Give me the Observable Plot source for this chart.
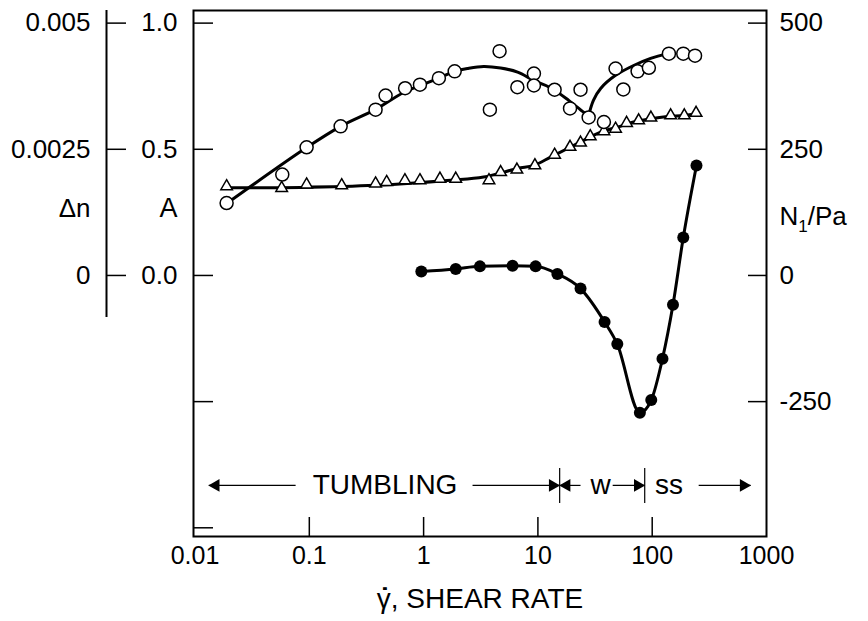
<!DOCTYPE html>
<html><head><meta charset="utf-8">
<script src="https://cdn.jsdelivr.net/npm/d3@7"></script>
<script src="https://cdn.jsdelivr.net/npm/@observablehq/plot@0.6"></script>
<style>body{margin:0;background:#fff}</style>
</head><body><div id="chart"></div>
<script>
// ---- data ----
// open circles (orientation A, left axis)
const circleRate = [0.0189, 0.058, 0.0947, 0.188, 0.380, 0.465, 0.689, 0.929, 1.36, 1.87, 3.80, 4.62, 6.61, 9.23, 9.23, 14.0, 19.1, 23.6, 27.8, 37.8, 47.8, 55.9, 74.5, 93.5, 140, 187, 237];
const circleA    = [0.287, 0.400, 0.508, 0.591, 0.657, 0.713, 0.742, 0.756, 0.782, 0.809, 0.657, 0.889, 0.746, 0.800, 0.753, 0.736, 0.662, 0.736, 0.626, 0.608, 0.820, 0.737, 0.809, 0.823, 0.879, 0.879, 0.871];
// smooth curve through open circles (two branches meeting at a cusp)
const circleFit1Rate = [0.0189, 0.0947, 0.188, 0.380, 0.682, 1.35, 1.87, 2.42, 3.35, 4.72, 6.64, 9.2, 12.9, 18.6, 25.1, 27.8];
const circleFit1A    = [0.285, 0.507, 0.591, 0.658, 0.727, 0.781, 0.809, 0.820, 0.828, 0.822, 0.806, 0.773, 0.744, 0.694, 0.647, 0.634];
const circleFit2Rate = [27.8, 30.6, 35.4, 47.8, 68.8, 96.8, 139];
const circleFit2A    = [0.634, 0.694, 0.741, 0.793, 0.832, 0.860, 0.880];
// open triangles (left axis)
const triRate = [0.0189, 0.0573, 0.0947, 0.192, 0.380, 0.475, 0.686, 0.929, 1.39, 1.91, 3.73, 4.72, 6.55, 9.41, 14.0, 19.1, 23.6, 28.7, 37.8, 47.8, 59.7, 76.1, 97.4, 145, 191, 242];
const triA    = [0.353, 0.346, 0.360, 0.357, 0.364, 0.370, 0.377, 0.377, 0.383, 0.383, 0.377, 0.409, 0.419, 0.436, 0.478, 0.509, 0.526, 0.551, 0.571, 0.581, 0.604, 0.614, 0.625, 0.634, 0.634, 0.644];
const triFitRate = [0.0189, 0.0839, 0.380, 1.72, 3.35, 6.64, 9.16, 12.9, 18.2, 25.1, 35.4, 49.8, 68.7, 96.8, 136, 188, 240];
const triFitA    = [0.348, 0.349, 0.357, 0.377, 0.390, 0.424, 0.436, 0.469, 0.503, 0.535, 0.568, 0.588, 0.608, 0.621, 0.630, 0.634, 0.641];
// filled circles: first normal stress difference N1 (Pa, right axis)
const n1Rate = [0.955, 1.91, 3.11, 6.00, 9.55, 14.8, 23.6, 38.3, 49.5, 78.0, 98.1, 123, 152, 187, 244];
const n1Pa   = [8, 13, 18, 19, 18, 3, -26, -92, -136, -272, -247, -165, -58, 75, 218];

// axes
const xTickValues = [0.01, 0.1, 1, 10, 100, 1000];
const xTickLabels = ["0.01", "0.1", "1", "10", "100", "1000"];
const xInnerTicks = [0.1, 1, 10, 100];
const aTickValues = [1.0, 0.5, 0.0, -0.5, -1.0];
const aLabelValues = [1.0, 0.5, 0.0];
const aLabels = ["1.0", "0.5", "0.0"];
const dnTickValues = [0.005, 0.0025, 0];
const dnLabels = ["0.005", "0.0025", "0"];
const n1TickValues = [500, 250, 0, -250];
const n1Labels = ["500", "250", "0", "-250"];
// scale equivalences between the three vertical axes (top tick = 1.0 = 0.005 = 500 Pa)
const A_PER_PA = 1 / 500;
const A_PER_DN = 1 / 0.005;

// flow regimes (shear rate)
const regimeStart = 0.0132, tumblingEnd = 15.5, wobblingEnd = 86, regimeEnd = 726;

// ---- layout ----
const W = 868, H = 621, mL = 193, mR = 102, mT = 10, mB = 85;
const pw = W - mL - mR, ph = H - mT - mB;
const font = "'Liberation Sans', Arial, Helvetica, sans-serif";
const rowY = -0.832;

const circles = circleRate.map((x, i) => ({x, y: circleA[i]}));
const cfit1 = circleFit1Rate.map((x, i) => ({x, y: circleFit1A[i]}));
const cfit2 = circleFit2Rate.map((x, i) => ({x, y: circleFit2A[i]}));
const tris = triRate.map((x, i) => ({x, y: triA[i]}));
const tfit = triFitRate.map((x, i) => ({x, y: triFitA[i]}));
const n1 = n1Rate.map((x, i) => ({x, y: n1Pa[i] * A_PER_PA}));

const arrowLines = [
  {x1: regimeStart, x2: 0.0759},
  {x1: 2.68, x2: tumblingEnd},
  {x1: tumblingEnd, x2: 23.6},
  {x1: 45.1, x2: wobblingEnd},
  {x1: 255, x2: regimeEnd}
];
const headsRight = [tumblingEnd, wobblingEnd, regimeEnd];
const headsLeft = [regimeStart, tumblingEnd];
const regimeText = [
  {x: 0.46, t: "TUMBLING"},
  {x: 35.4, t: "w"},
  {x: 140, t: "ss"}
];

const svg = Plot.plot({
  width: W, height: H,
  marginLeft: mL, marginRight: mR, marginTop: mT, marginBottom: mB,
  x: {type: "log", domain: [0.0097, 1000], axis: null},
  y: {domain: [-1.0345, 1.05], axis: null},
  style: {fontFamily: font, background: "white", color: "black", overflow: "visible"},
  marks: [
    Plot.frame({strokeWidth: 2}),
    // inward ticks
    Plot.tickY(aTickValues, {y: d => d, insetRight: pw - 20, strokeWidth: 1.5}),
    Plot.tickY(n1TickValues, {y: d => d * A_PER_PA, insetLeft: pw - 18, strokeWidth: 1.5}),
    Plot.tickX(xInnerTicks, {x: d => d, insetTop: ph - 19, strokeWidth: 1.5}),
    // detached Δn axis
    Plot.ruleX([0.0097], {dx: -87, insetBottom: 219, strokeWidth: 2}),
    Plot.tickY(dnTickValues, {y: d => d * A_PER_DN, dx: -87, insetRight: pw - 20, strokeWidth: 1.5}),
    Plot.text(dnTickValues, {y: d => d * A_PER_DN, text: (d, i) => dnLabels[i], frameAnchor: "left", dx: -103, textAnchor: "end", fontSize: 26}),
    Plot.text(aLabelValues, {y: d => d, text: (d, i) => aLabels[i], frameAnchor: "left", dx: -16, textAnchor: "end", fontSize: 26}),
    Plot.text(n1TickValues, {y: d => d * A_PER_PA, text: (d, i) => n1Labels[i], frameAnchor: "right", dx: 13, textAnchor: "start", fontSize: 26}),
    Plot.text(["Δn"], {y: 0.2655, frameAnchor: "left", dx: -103, textAnchor: "end", fontSize: 26}),
    Plot.text(["A"], {y: 0.2655, frameAnchor: "left", dx: -16, textAnchor: "end", fontSize: 27}),
    Plot.text(["N1/Pa"], {y: 0.232, frameAnchor: "right", dx: 13, textAnchor: "start", fontSize: 26}),
    Plot.text(xTickValues, {x: d => d, text: (d, i) => xTickLabels[i], frameAnchor: "bottom", dy: 27, fontSize: 25}),
    Plot.text(["γ, SHEAR RATE"], {frameAnchor: "bottom", dy: 71, fontSize: 28}),
    // regime annotations
    Plot.link(arrowLines, {x1: "x1", x2: "x2", y1: rowY, y2: rowY, strokeWidth: 1.2}),
    Plot.ruleX([tumblingEnd, wobblingEnd], {y1: -0.765, y2: -0.904, strokeWidth: 1.2}),
    Plot.dot(headsRight, {x: d => d, y: rowY, symbol: "triangle", r: 4.8, rotate: 90, fill: "black", stroke: "none", dx: -7}),
    Plot.dot(headsLeft, {x: d => d, y: rowY, symbol: "triangle", r: 4.8, rotate: -90, fill: "black", stroke: "none", dx: 7}),
    Plot.text(regimeText, {x: "x", y: rowY, text: "t", fontSize: 28}),
    // curves
    Plot.line(cfit1, {x: "x", y: "y", curve: "catmull-rom", strokeWidth: 3}),
    Plot.line(cfit2, {x: "x", y: "y", curve: "catmull-rom", strokeWidth: 3}),
    Plot.line(tfit, {x: "x", y: "y", curve: "catmull-rom", strokeWidth: 3}),
    Plot.line(n1, {x: "x", y: "y", curve: "monotone-x", strokeWidth: 3}),
    // markers
    Plot.dot(tris, {x: "x", y: "y", symbol: "triangle", r: 4.3, fill: "white", stroke: "black", strokeWidth: 1.5}),
    Plot.dot(circles, {x: "x", y: "y", r: 6.5, fill: "white", stroke: "black", strokeWidth: 1.5}),
    Plot.dot(n1, {x: "x", y: "y", r: 6, fill: "black", stroke: "none"})
  ]
});

document.getElementById("chart").appendChild(svg);

// subscript for N1
d3.select(svg).selectAll("text").filter(function() { return this.textContent === "N1/Pa"; })
  .each(function() {
    const t = d3.select(this);
    t.text(null);
    t.append("tspan").text("N");
    t.append("tspan").attr("dy", 7).attr("font-size", 17).text("1");
    t.append("tspan").attr("dy", -7).text("/Pa");
  });

// dot over the gamma of the shear-rate title (kept inside the same text element)
d3.select(svg).selectAll("text").filter(function() { return this.textContent === "γ, SHEAR RATE"; })
  .each(function() {
    const gw = this.getSubStringLength(0, 1);
    const t = d3.select(this);
    t.text(null);
    t.append("tspan").text("γ");
    const dot = t.append("tspan").attr("font-weight", "bold").attr("dy", -1).text("˙");
    const dw = dot.node().getComputedTextLength();
    dot.attr("dx", -(gw / 2 + dw / 2) + 1);
    t.append("tspan").attr("dx", gw / 2 - dw / 2 - 1).attr("dy", 1).text(", SHEAR RATE");
  });
</script>
</body></html>
